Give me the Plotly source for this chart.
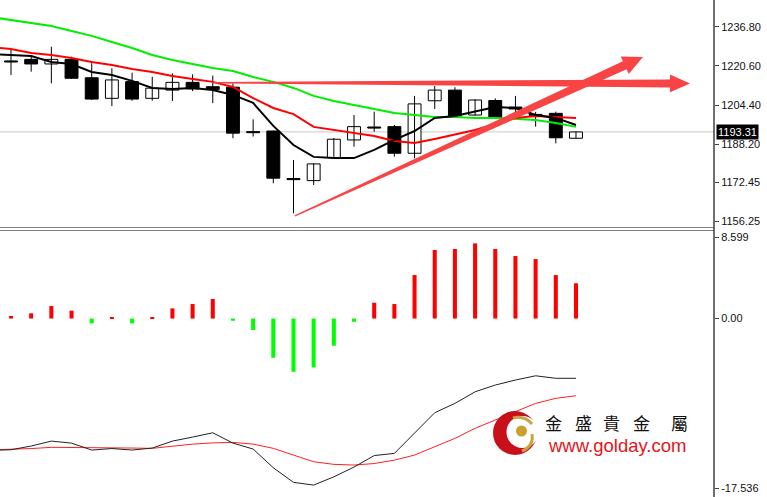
import numpy as np
import plotly.graph_objects as go

# ---------------- data ----------------
bar_index = list(range(29))
opens  = [1222.5, 1223.3, 1221.4, 1223.3, 1215.7, 1207.2, 1214.1, 1207.2, 1210.6, 1213.8,
          1212.0, 1211.8, 1193.3, 1193.7, 1173.9, 1173.2, 1182.7, 1190.0, 1195.2, 1195.5,
          1184.5, 1206.2, 1210.6, 1200.3, 1206.3, 1203.6, 1200.5, 1201.0, 1190.7]
highs  = [1227.2, 1224.4, 1228.5, 1224.4, 1221.7, 1219.6, 1217.8, 1216.1, 1217.5, 1217.1,
          1216.6, 1213.4, 1198.5, 1193.9, 1181.7, 1180.3, 1190.8, 1200.3, 1201.7, 1196.2,
          1208.2, 1212.3, 1211.8, 1206.8, 1207.2, 1208.2, 1201.6, 1201.7, 1193.5]
lows   = [1216.8, 1218.2, 1213.4, 1215.2, 1206.5, 1204.0, 1206.2, 1206.2, 1206.1, 1210.2,
          1205.2, 1190.7, 1191.4, 1172.1, 1159.7, 1171.4, 1182.5, 1187.2, 1193.4, 1183.1,
          1182.4, 1202.8, 1199.7, 1200.1, 1198.8, 1201.4, 1195.5, 1188.6, 1190.6]
closes = [1222.2, 1221.4, 1223.3, 1215.5, 1206.9, 1214.8, 1206.9, 1211.4, 1213.8, 1211.1,
          1210.9, 1192.8, 1193.0, 1174.2, 1173.6, 1180.1, 1190.3, 1195.5, 1194.9, 1184.5,
          1204.9, 1210.6, 1199.9, 1206.5, 1199.1, 1202.8, 1200.1, 1190.9, 1193.31]

ma_index = list(range(-1, 29))
ma_fast = [1225.5, 1225.1, 1224.7, 1222.2, 1221.4, 1218.1, 1216.8, 1214.4, 1211.5, 1211.1,
           1211.5, 1210.6, 1208.6, 1205.3, 1195.8, 1187.9, 1183.0, 1182.5, 1182.5, 1185.9,
           1190.0, 1193.7, 1199.1, 1199.9, 1201.6, 1203.6, 1203.2, 1200.3, 1199.1, 1196.2]
ma_mid  = [1228.4, 1227.6, 1225.9, 1225.1, 1223.9, 1222.2, 1221.0, 1219.3, 1218.1, 1216.4,
           1215.2, 1214.0, 1211.9, 1207.3, 1203.2, 1200.7, 1195.4, 1194.1, 1192.9, 1191.6,
           1189.6, 1188.7, 1190.4, 1192.1, 1194.1, 1196.6, 1199.1, 1199.9, 1199.5, 1199.1]
ma_slow = [1240.8, 1239.6, 1238.3, 1237.1, 1235.0, 1233.0, 1230.5, 1228.0, 1225.1, 1223.0,
           1221.4, 1219.7, 1218.5, 1216.0, 1214.0, 1211.5, 1208.2, 1206.1, 1204.4, 1202.8,
           1201.1, 1200.3, 1199.5, 1199.5, 1199.1, 1199.1, 1198.7, 1198.2, 1197.0, 1195.4]

hist = [0.25, 0.52, 1.24, 0.78, -0.48, 0.08, -0.48, 0.12, 1.01, 1.44,
        1.94, -0.22, -1.14, -3.90, -5.29, -4.85, -2.70, -0.32, 1.57, 1.44,
        4.32, 6.81, 6.91, 7.47, 6.91, 6.21, 5.91, 4.32, 3.50]
osc_main   = [-13.10, -13.04, -12.67, -12.18, -12.38, -13.07, -12.92, -13.07, -12.87, -12.18,
              -11.78, -11.35, -12.38, -12.97, -14.83, -16.28, -16.55, -15.73, -14.76, -13.62,
              -13.40, -11.38, -9.36, -8.43, -7.28, -6.61, -6.11, -5.69, -5.94, -5.94]
osc_signal = [-13.05, -13.02, -12.92, -12.80, -12.80, -12.80, -12.82, -12.87, -12.90, -12.67,
              -12.48, -12.36, -12.31, -12.48, -12.90, -13.57, -14.23, -14.49, -14.56, -14.41,
              -14.07, -13.57, -12.74, -11.91, -10.91, -10.09, -9.26, -8.43, -7.93, -7.67]

price_ticks = [1236.80, 1220.60, 1204.40, 1188.20, 1172.45, 1156.25]
last_price = 1193.31
osc_tick_pos = [8.05, 0.0, -16.85]
osc_tick_text = ["8.599", "0.00", "-17.536"]

# drawn objects (bar index, price)
h_arrow = ((10.0, 1213.65), (33.65, 1213.35))
r_arrow = ((14.07, 1158.6), (31.32, 1224.3))

# ---------------- layout geometry ----------------
W, H = 767, 497
PLOT_W = 714
TOP_H = 227
X0, X1 = -0.545, 34.84
P0, P1 = 1154.03, 1247.83
O0, O1 = -17.536, 8.599

def dpx(i):
    return (i - X0) / (X1 - X0) * PLOT_W

def dpy(p):
    return (P1 - p) / (P1 - P0) * TOP_H

def xp(px):
    return px / PLOT_W

def yp(py):
    return 1 - py / H

fig = go.Figure()

# wicks
wx, wy = [], []
for i, h, l in zip(bar_index, highs, lows):
    wx += [i, i, None]
    wy += [l, h, None]
fig.add_trace(go.Scatter(x=wx, y=wy, mode="lines", line=dict(color="black", width=1),
                         hoverinfo="skip", showlegend=False, xaxis="x", yaxis="y"))

# bodies
o = np.array(opens); c = np.array(closes)
base = np.minimum(o, c)
height = np.maximum(np.abs(c - o), 0.45)
colors = ["white" if cc >= oo else "black" for oo, cc in zip(opens, closes)]
fig.add_trace(go.Bar(x=bar_index, y=height, base=base, width=0.64,
                     marker=dict(color=colors, line=dict(color="black", width=1)),
                     showlegend=False, xaxis="x", yaxis="y"))

# moving averages
fig.add_trace(go.Scatter(x=ma_index, y=ma_slow, mode="lines", line=dict(color="#00EE00", width=2),
                         showlegend=False, xaxis="x", yaxis="y"))
fig.add_trace(go.Scatter(x=ma_index, y=ma_mid, mode="lines", line=dict(color="#FF0000", width=2),
                         showlegend=False, xaxis="x", yaxis="y"))
fig.add_trace(go.Scatter(x=ma_index, y=ma_fast, mode="lines", line=dict(color="black", width=2),
                         showlegend=False, xaxis="x", yaxis="y"))

# oscillator panel
hcol = ["#FF0000" if v >= 0 else "#00FF00" for v in hist]
fig.add_trace(go.Bar(x=bar_index, y=hist, width=0.2, marker=dict(color=hcol, line=dict(width=0)),
                     showlegend=False, xaxis="x2", yaxis="y2"))
fig.add_trace(go.Scatter(x=ma_index, y=osc_signal, mode="lines", line=dict(color="#FF2020", width=1),
                         showlegend=False, xaxis="x2", yaxis="y2"))
fig.add_trace(go.Scatter(x=ma_index, y=osc_main, mode="lines", line=dict(color="#222222", width=1),
                         showlegend=False, xaxis="x2", yaxis="y2"))

shapes = []
# current price line
shapes.append(dict(type="line", xref="paper", yref="y", x0=0, x1=1, y0=last_price, y1=last_price,
                   line=dict(color="#C8C8C8", width=1), layer="below"))
# panel separator
for py in (227.5, 230.5):
    shapes.append(dict(type="line", xref="paper", yref="paper", x0=0, x1=1, y0=yp(py), y1=yp(py),
                       line=dict(color="#808080", width=1)))
# right axis line
shapes.append(dict(type="line", xref="paper", yref="paper", x0=1, x1=1, y0=0, y1=1,
                   line=dict(color="#404040", width=1.5)))


def arrow_path(tail, tip, w_tail, w_shaft, head_len, head_half):
    t = np.array([dpx(tail[0]), dpy(tail[1])])
    p = np.array([dpx(tip[0]), dpy(tip[1])])
    d = p - t
    u = d / np.hypot(*d)
    n = np.array([-u[1], u[0]])
    b = p - u * head_len
    pts = [t + n * w_tail, b + n * w_shaft, b + n * head_half, p,
           b - n * head_half, b - n * w_shaft, t - n * w_tail]
    s = "M " + " L ".join(f"{xp(q[0]):.5f},{yp(q[1]):.5f}" for q in pts) + " Z"
    return s

for a, hl, hh, ws in ((h_arrow, 20, 8.8, 4.0), (r_arrow, 20, 9.5, 4.5)):
    shapes.append(dict(type="path", xref="paper", yref="paper",
                       path=arrow_path(a[0], a[1], 0.7, ws, hl, hh),
                       fillcolor="#F84444", line=dict(width=0), layer="above"))

# logo
def circ(cx, cy, r, color):
    return dict(type="circle", xref="paper", yref="paper",
                x0=xp(cx - r), x1=xp(cx + r), y0=yp(cy + r), y1=yp(cy - r),
                fillcolor=color, line=dict(width=0), layer="above")

shapes.append(circ(515, 433, 22, "#C8101A"))
shapes.append(circ(522.5, 432, 16, "white"))
shapes.append(circ(521.5, 431, 5.5, "#C9A12E"))
def qpath(p0, pc, p1):
    return "M %.5f,%.5f Q %.5f,%.5f %.5f,%.5f" % (xp(p0[0]), yp(p0[1]), xp(pc[0]), yp(pc[1]),
                                                 xp(p1[0]), yp(p1[1]))
shapes.append(dict(type="path", xref="paper", yref="paper", path=qpath((513, 418), (524, 415), (532, 424)),
                   line=dict(color="#C9A441", width=3), layer="above"))
shapes.append(dict(type="path", xref="paper", yref="paper", path=qpath((532, 434), (534, 446), (522, 451)),
                   line=dict(color="#C9A441", width=3), layer="above"))

annotations = [
    dict(text=f"{last_price:.2f}", xref="paper", yref="y", x=1, y=last_price, xanchor="left",
         yanchor="middle", xshift=2, showarrow=False, bgcolor="black", borderpad=1,
         font=dict(color="white", size=11, family="Liberation Sans")),
]
for ch, cx in zip("金盛貴金屬", [553.5, 583.5, 611.5, 641.5, 679]):
    annotations.append(dict(text=ch, xref="paper", yref="paper", x=xp(cx), y=yp(422.5),
                            xanchor="center", yanchor="middle", showarrow=False,
                            font=dict(size=17, color="#111111", family="Noto Sans CJK TC")))
annotations.append(dict(text="www.golday.com", xref="paper", yref="paper", x=xp(617), y=yp(445.5),
                        xanchor="center", yanchor="middle", showarrow=False,
                        font=dict(size=18.5, color="#E5141B", family="Liberation Sans")))

axis_font = dict(family="Liberation Sans", size=11, color="#111111")
fig.update_layout(
    width=W, height=H, margin=dict(l=0, r=W - PLOT_W, t=0, b=0, autoexpand=False),
    paper_bgcolor="white", plot_bgcolor="white", showlegend=False, barmode="overlay",
    xaxis=dict(domain=[0, 1], range=[X0, X1], visible=False, anchor="y", fixedrange=True),
    xaxis2=dict(domain=[0, 1], range=[X0, X1], visible=False, anchor="y2", fixedrange=True),
    yaxis=dict(domain=[1 - TOP_H / H, 1], range=[P0, P1], side="right", anchor="x",
               tickvals=price_ticks, ticktext=[f"{v:.2f}" for v in price_ticks],
               ticks="outside", ticklen=4, tickcolor="#404040", showgrid=False, zeroline=False,
               showline=False, tickfont=axis_font, automargin=False),
    yaxis2=dict(domain=[1 - 495 / H, 1 - 232 / H], range=[O0, O1], side="right", anchor="x2",
                tickvals=osc_tick_pos, ticktext=osc_tick_text,
                ticks="outside", ticklen=4, tickcolor="#404040", showgrid=False, zeroline=False,
                showline=False, tickfont=axis_font, automargin=False),
    shapes=shapes, annotations=annotations,
)

fig.write_html("out.html", config={"displayModeBar": False},
               post_script="document.body.style.margin='0';document.body.style.padding='0';"
                           "document.body.style.overflow='hidden';")
